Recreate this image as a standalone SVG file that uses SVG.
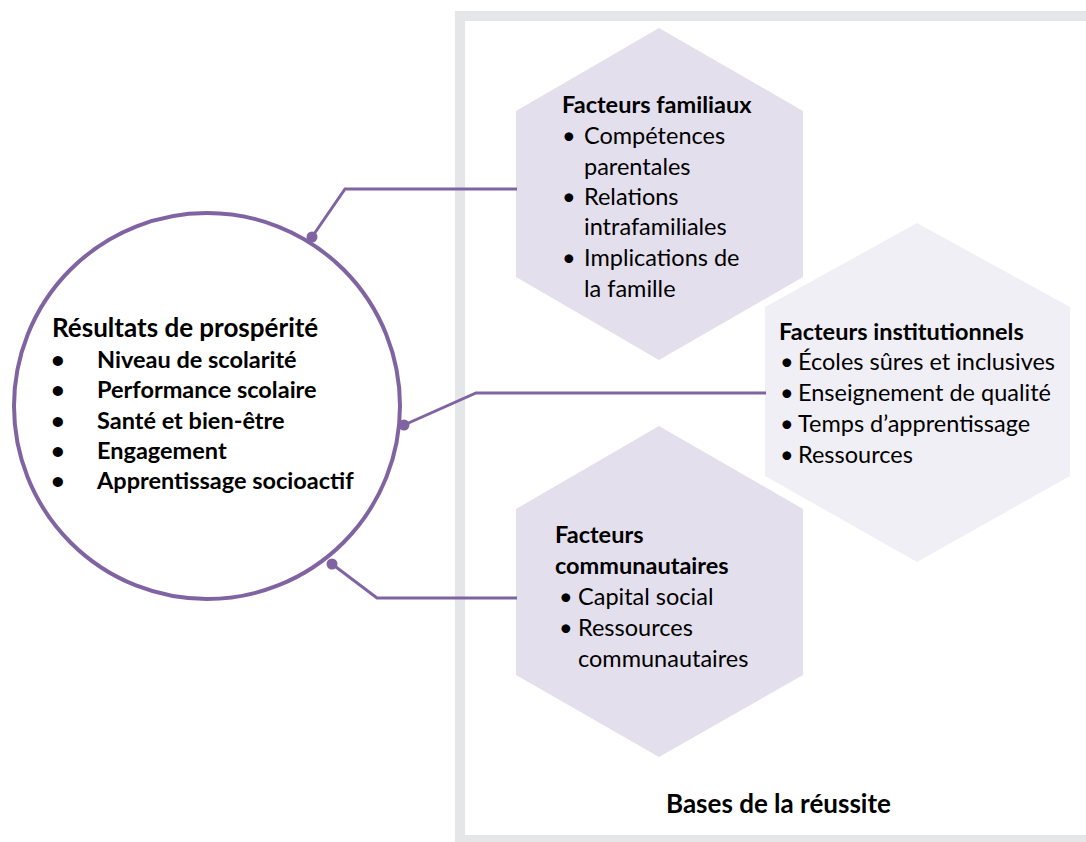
<svg xmlns="http://www.w3.org/2000/svg" width="1086" height="842" viewBox="0 0 1086 842">
<style>
text{font-family:Lato,"Liberation Sans",sans-serif;fill:#000;}
.b{font-weight:bold;}
.t{font-size:23.5px;}
.big{font-size:26px;font-weight:bold;}
.hexA{fill:#e4dfec;}
.hexB{fill:#f1eff6;}
.conn{fill:none;stroke:#8064a2;stroke-width:3;}
.dot{fill:#8064a2;}
</style>
<rect x="0" y="0" width="1086" height="842" fill="#fff"/>
<rect id="frame" x="460" y="16" width="700" height="824" fill="none" stroke="#e5e6e8" stroke-width="10"/>
<g id="hex-institutionnels">
<polygon class="hexB" points="917,223 1070,307 1070,476 917,562 765,476 765,307"/>
<text class="t b" x="779" y="340">Facteurs institutionnels</text>
<text class="t" x="780" y="370">•</text><text class="t" x="798" y="370">Écoles sûres et inclusives</text>
<text class="t" x="780" y="401">•</text><text class="t" x="798" y="401">Enseignement de qualité</text>
<text class="t" x="780" y="432">•</text><text class="t" x="798" y="432">Temps d’apprentissage</text>
<text class="t" x="780" y="463">•</text><text class="t" x="798" y="463">Ressources</text>
</g>
<g id="hex-familiaux">
<polygon class="hexA" points="659,28 803,111 803,277 659,360 516,277 516,111"/>
<text class="t b" x="562" y="113">Facteurs familiaux</text>
<text class="t" x="562" y="144">•</text><text class="t" x="584" y="144">Compétences</text>
<text class="t" x="584" y="175">parentales</text>
<text class="t" x="562" y="205">•</text><text class="t" x="584" y="205">Relations</text>
<text class="t" x="584" y="235">intrafamiliales</text>
<text class="t" x="562" y="266">•</text><text class="t" x="584" y="266">Implications de</text>
<text class="t" x="584" y="297">la famille</text>
</g>
<g id="hex-communautaires">
<polygon class="hexA" points="659,426 803,509 803,675 659,757 516,675 516,509"/>
<text class="t b" x="555" y="543">Facteurs</text>
<text class="t b" x="555" y="574">communautaires</text>
<text class="t" x="559" y="605">•</text><text class="t" x="578" y="605">Capital social</text>
<text class="t" x="559" y="636">•</text><text class="t" x="578" y="636">Ressources</text>
<text class="t" x="578" y="667">communautaires</text>
</g>
<g id="connectors">
<polyline class="conn" points="312,237 345,189 517,189"/>
<polyline class="conn" points="404,425 476,393 766,393"/>
<polyline class="conn" points="332,564 377,598 517,598"/>
<circle class="dot" cx="312" cy="237" r="5.5"/>
<circle class="dot" cx="404" cy="425" r="5.5"/>
<circle class="dot" cx="332" cy="564" r="5.5"/>
</g>
<g id="resultats">
<circle cx="207" cy="406" r="193" fill="#fff" stroke="#8064a2" stroke-width="4"/>
<text class="big" x="52" y="337">Résultats de prospérité</text>
<text class="t b" x="51" y="368">•</text><text class="t b" x="97" y="368">Niveau de scolarité</text>
<text class="t b" x="51" y="398">•</text><text class="t b" x="97" y="398">Performance scolaire</text>
<text class="t b" x="51" y="429">•</text><text class="t b" x="97" y="429">Santé et bien-être</text>
<text class="t b" x="51" y="459">•</text><text class="t b" x="97" y="459">Engagement</text>
<text class="t b" x="51" y="489">•</text><text class="t b" x="97" y="489">Apprentissage socioactif</text>
</g>
<g id="bases">
<text class="big" x="666" y="813">Bases de la réussite</text>
</g>
</svg>
